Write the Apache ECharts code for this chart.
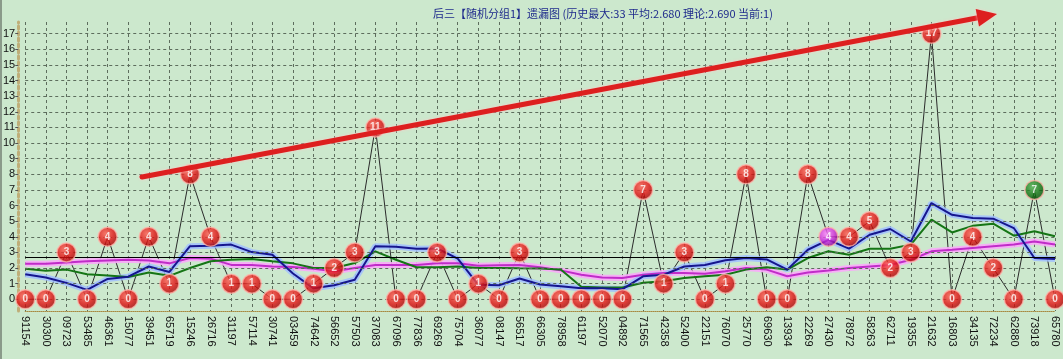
<!DOCTYPE html>
<html>
<head>
<meta charset="utf-8">
<script src="https://cdn.jsdelivr.net/npm/echarts@6/dist/echarts.min.js"></script>
<style>
html,body{margin:0;padding:0;background:#cce8cd;}
#main{width:1063px;height:359px;}
</style>
</head>
<body>
<div id="main"></div>
<script>
const titleText = '后三【随机分组1】遗漏图 (历史最大:33 平均:2.680 理论:2.690 当前:1)';
const categories = ['91154','30300','09723','53485','46361','15077','39451','65719','15246','26716','31197','57114','30741','03459','74642','56652','57503','37083','67096','77836','69269','75704','36077','08147','56517','66305','78958','61197','52070','04892','71565','42358','52400','22151','76070','25770','69630','13934','22269','27430','78972','58263','62711','19355','21632','16803','34135','72234','62880','73918','65780'];
const omission = [0,0,3,0,4,0,4,1,8,4, 1,1,0,0,1,2,3,11,0,0, 3,0,1,0,3,0,0,0,0,0, 7,1,3,0,1,8,0,0,8,4, 4,5,2,3,17,0,4,2,0,7, 0];
const blueAvg = [1.6,1.4,1.05,0.6,1.3,1.45,2.1,1.75,3.4,3.43, 3.5,3.02,2.85,1.65,0.7,0.9,1.25,3.4,3.37,3.24, 3.25,2.6,0.93,0.9,1.33,0.95,0.83,0.7,0.7,0.65, 1.47,1.57,2.1,2.2,2.5,2.64,2.55,1.9,3.17,3.8, 3.24,4.13,4.5,3.7,6.16,5.41,5.2,5.16,4.56,2.64, 2.58];
const greenAvg = [1.95,1.83,1.9,1.6,1.53,1.43,1.72,1.5,2.0,2.43, 2.53,2.58,2.43,2.3,2.0,2.0,2.32,3.07,2.53,2.05, 2.05,2.1,2.0,2.0,1.98,1.97,1.9,0.8,0.75,0.75, 1.06,1.15,1.36,1.47,1.57,1.9,2.05,1.9,2.64,3.07, 2.85,3.24,3.24,3.5,5.1,4.28,4.7,4.84,4.07,4.35, 4.03];
const magentaAvg = [2.28,2.28,2.36,2.43,2.49,2.53,2.49,2.3,2.64,2.6, 2.2,2.2,2.1,2.07,1.95,1.8,2.0,2.2,2.2,2.2, 2.3,2.3,2.15,2.18,2.2,2.05,1.85,1.57,1.4,1.36, 1.57,1.68,1.68,1.64,1.79,2.0,1.9,1.47,1.72,1.85, 2.0,2.1,2.2,2.53,3.07,3.17,3.28,3.39,3.5,3.7, 3.5];
const theory = 2.69;
const yTicks = [0,1,2,3,4,5,6,7,8,9,10,11,12,13,14,15,16,17];
const specialPoints = {39:'magenta', 49:'green'};

const gradients = {
  red: {type:'radial',x:0.4,y:0.35,r:0.7,colorStops:[{offset:0,color:'#ff5a50'},{offset:0.55,color:'#e01212'},{offset:1,color:'#9a0000'}]},
  magenta: {type:'radial',x:0.4,y:0.35,r:0.7,colorStops:[{offset:0,color:'#ff80ff'},{offset:0.55,color:'#d02ad8'},{offset:1,color:'#80007a'}]},
  green: {type:'radial',x:0.4,y:0.35,r:0.7,colorStops:[{offset:0,color:'#50b050'},{offset:0.55,color:'#137313'},{offset:1,color:'#004400'}]}
};

const scatterData = omission.map((v,i)=>{
  const key = specialPoints[i] || 'red';
  return {value:v, itemStyle:{color:gradients[key]}};
});

const gridColor = '#5d6d5d';
const chart = echarts.init(document.getElementById('main'), null, {renderer:'canvas'});
chart.setOption({
  backgroundColor:'#cce8cd',
  animation:false,
  title:{text:titleText,left:428,top:3,textStyle:{color:'#1e2a8c',fontSize:11,fontWeight:'normal',fontFamily:'Noto Sans CJK SC'}},
  grid:{left:25,right:8,top:22,bottom:48},
  xAxis:{
    type:'category',data:categories,boundaryGap:false,
    axisLine:{onZero:false,lineStyle:{color:'#a88a40',type:'dotted',width:1}},
    axisTick:{show:false},
    axisLabel:{rotate:-90,interval:0,margin:5,fontSize:11,color:'#111',fontFamily:'Liberation Sans'},
    splitLine:{show:true,interval:0,lineStyle:{color:gridColor,type:[3,3],width:1}}
  },
  yAxis:{
    type:'value',min:-0.75,max:17.75,offset:7,
    axisLine:{show:true,lineStyle:{color:'#bfae78',type:'dotted',width:3}},
    axisTick:{show:true,length:3,customValues:yTicks,lineStyle:{color:'#555'}},
    axisLabel:{customValues:yTicks,margin:3,fontSize:11,color:'#111',fontFamily:'Liberation Sans'},
    splitLine:{show:false}
  },
  graphic:[
    {type:'rect',left:0,top:0,shape:{width:2,height:359},style:{fill:'#8a9a8a'}},
    {type:'line',z:100,shape:{x1:142,y1:177,x2:978,y2:17.8},style:{stroke:'#dd1f1f',lineWidth:5,lineCap:'round',shadowColor:'rgba(255,200,200,0.9)',shadowBlur:3}},
    {type:'polygon',z:100,shape:{points:[[997,14],[979,26.6],[975.7,8.9]]},style:{fill:'#dd1f1f',shadowColor:'rgba(255,200,200,0.9)',shadowBlur:3}}
  ],
  series:[
    {type:'line',data:omission,z:1,symbol:'none',silent:true,
      lineStyle:{color:'#2a2a2a',width:1},
      markLine:{silent:true,symbol:'none',label:{show:false},
        data:yTicks.map(v=>({yAxis:v,lineStyle:{color:gridColor,type:[3,3],width:1}})).concat([{yAxis:theory,lineStyle:{color:'#000',type:'solid',width:1.2}}])}
    },
    {type:'line',data:magentaAvg,z:2,symbol:'none',silent:true,lineStyle:{color:'rgba(250,170,250,0.9)',width:6}},
    {type:'line',data:magentaAvg,z:3,symbol:'none',silent:true,lineStyle:{color:'#c02cc8',width:2}},
    {type:'line',data:blueAvg,z:2,symbol:'none',silent:true,lineStyle:{color:'rgba(160,190,255,0.85)',width:6}},
    {type:'line',data:greenAvg,z:3,symbol:'none',silent:true,lineStyle:{color:'#157515',width:2}},
    {type:'line',data:blueAvg,z:4,symbol:'none',silent:true,lineStyle:{color:'#16168e',width:2}},
    {type:'scatter',data:scatterData,z:10,symbol:'circle',symbolSize:19,silent:true,clip:false,
      itemStyle:{borderColor:'rgba(255,180,170,0.95)',borderWidth:1.5},
      label:{show:true,position:'inside',formatter:p=>String(p.value),color:'#fff',fontSize:10,fontWeight:'bold',fontFamily:'Liberation Sans'}
    }
  ]
});
</script>
</body>
</html>
